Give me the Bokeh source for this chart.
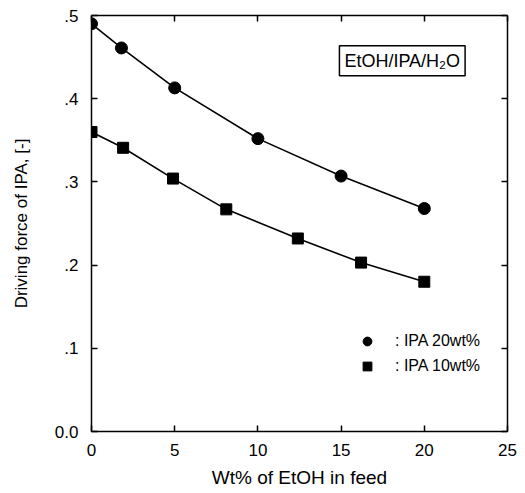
from bokeh.plotting import figure
from bokeh.models import Range1d, FixedTicker, LinearAxis, Label, Legend, LegendItem
from bokeh.embed import file_html
from bokeh.resources import INLINE

# ---- data ----
x_ipa20 = [0.0, 1.8, 5.0, 10.0, 15.0, 20.0]
y_ipa20 = [0.490, 0.461, 0.413, 0.352, 0.307, 0.268]
x_ipa10 = [0.0, 1.9, 4.9, 8.1, 12.4, 16.2, 20.0]
y_ipa10 = [0.360, 0.341, 0.304, 0.267, 0.232, 0.203, 0.180]

x_ticks = [0, 5, 10, 15, 20, 25]
x_tick_labels = ["0", "5", "10", "15", "20", "25"]
y_ticks = [0.0, 0.1, 0.2, 0.3, 0.4, 0.5]
y_tick_labels = ["0.0", ".1", ".2", ".3", ".4", ".5"]

series_labels = [": IPA 20wt%", ": IPA 10wt%"]
box_text = "EtOH/IPA/H\u2082O"
x_title = "Wt% of EtOH in feed"
y_title = "Driving force of IPA, [-]"

FONT = "Liberation Sans"

p = figure(width=517, height=490, x_range=Range1d(0, 25), y_range=Range1d(0, 0.5),
           output_backend="svg", toolbar_location=None,
           min_border_left=91, min_border_right=10, min_border_top=15, min_border_bottom=56)
p.xgrid.visible = False
p.ygrid.visible = False
p.outline_line_color = None
p.background_fill_color = "white"
p.border_fill_color = "white"


def style_axis(ax, show_labels=True):
    ax.axis_line_color = "black"
    ax.axis_line_width = 1.5
    ax.major_tick_in = 6
    ax.major_tick_out = 0
    ax.major_tick_line_width = 1.5
    ax.major_tick_line_color = "black"
    ax.minor_tick_line_color = None
    if show_labels:
        ax.major_label_text_font = FONT
        ax.major_label_text_font_size = "17px"
        ax.major_label_text_color = "black"
        ax.axis_label_text_font = FONT
        ax.axis_label_text_font_size = "19px"
        ax.axis_label_text_font_style = "normal"
        ax.axis_label_text_color = "black"
    else:
        ax.major_label_text_font_size = "0px"
        ax.major_label_standoff = 0


xa = p.xaxis[0]
ya = p.yaxis[0]
xa.ticker = FixedTicker(ticks=x_ticks)
ya.ticker = FixedTicker(ticks=y_ticks)
xa.major_label_overrides = {t: l for t, l in zip(x_ticks, x_tick_labels)}
ya.major_label_overrides = {t: l for t, l in zip(y_ticks, y_tick_labels)}
style_axis(xa)
style_axis(ya)
xa.axis_label = x_title
xa.major_label_standoff = 12
xa.axis_label_standoff = 8
ya.axis_label = y_title
ya.axis_label_text_font_size = "17px"
ya.major_label_standoff = 13
ya.axis_label_standoff = 21

top = LinearAxis(ticker=FixedTicker(ticks=x_ticks))
right = LinearAxis(ticker=FixedTicker(ticks=y_ticks))
style_axis(top, False)
style_axis(right, False)
p.add_layout(top, "above")
p.add_layout(right, "right")

# curves
p.line(x_ipa20, y_ipa20, line_color="black", line_width=1.6)
p.line(x_ipa10, y_ipa10, line_color="black", line_width=1.6)
r20 = p.scatter(x_ipa20, y_ipa20, marker="circle", size=12, fill_color="black", line_color="black")
r10 = p.scatter(x_ipa10, y_ipa10, marker="square", size=11, fill_color="black", line_color="black")

legend = Legend(items=[LegendItem(label=series_labels[0], renderers=[r20]),
                       LegendItem(label=series_labels[1], renderers=[r10])],
                location=(265, 54), border_line_color=None, background_fill_alpha=0,
                label_text_font=FONT, label_text_font_size="16px", label_text_color="black",
                glyph_width=22, glyph_height=22, label_standoff=17, spacing=3,
                padding=0, margin=0, label_height=22)
p.add_layout(legend, "center")

box = Label(x=14.9, y=0.4457, text=box_text, text_baseline="middle", text_align="left",
            text_font=FONT, text_font_size="18px", text_color="black",
            border_line_color="black", border_line_width=1.5,
            background_fill_color="white", padding=5)
p.add_layout(box)

open("out.html", "w").write(file_html(p, INLINE))
